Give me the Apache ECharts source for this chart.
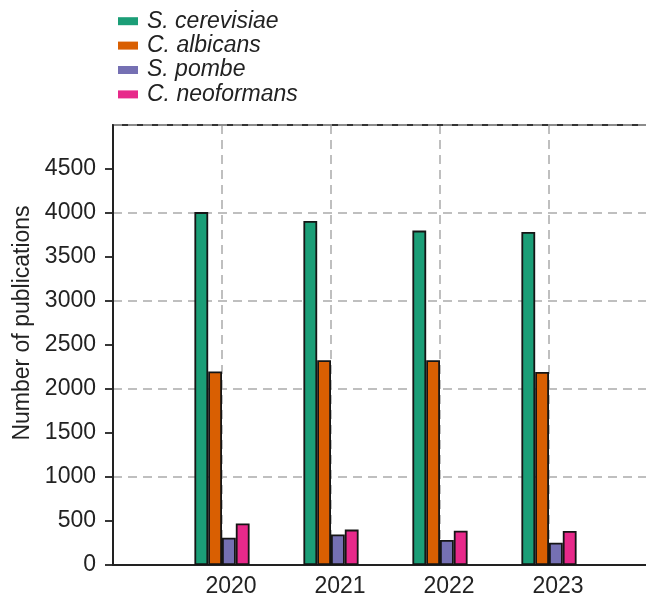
<!DOCTYPE html>
<html>
<head>
<meta charset="utf-8">
<script src="https://cdn.jsdelivr.net/npm/echarts@6/dist/echarts.min.js"></script>
<style>html,body{margin:0;padding:0;background:#fff;}#c{width:646px;height:600px;}</style>
</head>
<body>
<div id="c"></div>
<script>
const years = [2020, 2021, 2022, 2023];
const seriesNames = ['S. cerevisiae', 'C. albicans', 'S. pombe', 'C. neoformans'];
const sCerevisiae = [4010, 3910, 3800, 3785];
const cAlbicans = [2200, 2326, 2326, 2193];
const sPombe = [310, 348, 284, 254];
const cNeoformans = [472, 402, 390, 386];
const yTicks = [0, 500, 1000, 1500, 2000, 2500, 3000, 3500, 4000, 4500];
const colors = ['#1b9e77', '#d95f02', '#7570b3', '#e7298a'];

const allValues = [sCerevisiae, cAlbicans, sPombe, cNeoformans];
const FONT = 'Liberation Sans, Arial, sans-serif';
const chart = echarts.init(document.getElementById('c'), null, {renderer: 'canvas'});

const gridLine = {show: true, lineStyle: {color: '#aaaaaa', width: 1.5, type: [9, 6]}};

chart.setOption({
  animation: false,
  backgroundColor: '#ffffff',
  textStyle: {fontFamily: FONT},
  legend: {
    orient: 'vertical',
    left: 113, top: 4,
    itemWidth: 20, itemHeight: 8, itemGap: 0,
    icon: 'rect',
    itemStyle: {borderWidth: 0},
    textStyle: {fontSize: 23, fontStyle: 'italic', color: '#222', fontFamily: FONT, lineHeight: 24.4, padding: [0, 0, 0, 4]},
    data: seriesNames
  },
  grid: {left: 113, right: 0, top: 125, bottom: 35, containLabel: false, outerBoundsMode: 'none'},
  xAxis: [{
    type: 'value', min: 2019, max: 2023.89, interval: 1,
    axisLine: {show: true, lineStyle: {color: '#222', width: 1.8}},
    axisTick: {show: false},
    axisLabel: {customValues: years, formatter: v => String(v), fontSize: 23, color: '#222', margin: 10, padding: [0, 0, 0, 18], fontFamily: FONT},
    splitLine: Object.assign({showMinLine: false, showMaxLine: false}, gridLine),
    z: 0
  }, {
    type: 'value', min: 2019, max: 2023.89, interval: 1, position: 'top',
    axisLine: {show: true, onZero: false, lineStyle: {color: '#333', width: 2}},
    axisTick: {show: false}, axisLabel: {show: false}, splitLine: {show: false},
    z: 0
  }],
  yAxis: [{
    type: 'value', min: 0, max: 5000, interval: 500,
    name: 'Number of publications', nameLocation: 'middle', nameGap: 78,
    nameTextStyle: {fontSize: 23, color: '#222', fontFamily: FONT, padding: [0, 0, 0, 44]},
    axisLine: {show: true, lineStyle: {color: '#222', width: 2}},
    axisTick: {show: true, customValues: yTicks, length: 8, lineStyle: {color: '#222', width: 1.8}},
    axisLabel: {customValues: yTicks, formatter: v => String(v), fontSize: 23, color: '#222', margin: 17, fontFamily: FONT},
    splitLine: {show: false},
    z: 2
  }, {
    type: 'value', min: 0, max: 5000, interval: 1000, position: 'left',
    axisLine: {show: false}, axisTick: {show: false}, axisLabel: {show: false},
    splitLine: Object.assign({showMinLine: false, showMaxLine: true}, gridLine),
    z: 1
  }],
  series: allValues.map((vals, i) => ({
    name: seriesNames[i],
    type: 'bar',
    xAxisIndex: 0,
    yAxisIndex: 0,
    barWidth: 13.8,
    barGap: '0%',
    itemStyle: {color: colors[i], borderColor: '#151515', borderWidth: 1.8},
    data: years.map((y, j) => [y, vals[j]]),
    z: 3
  }))
});
</script>
</body>
</html>
